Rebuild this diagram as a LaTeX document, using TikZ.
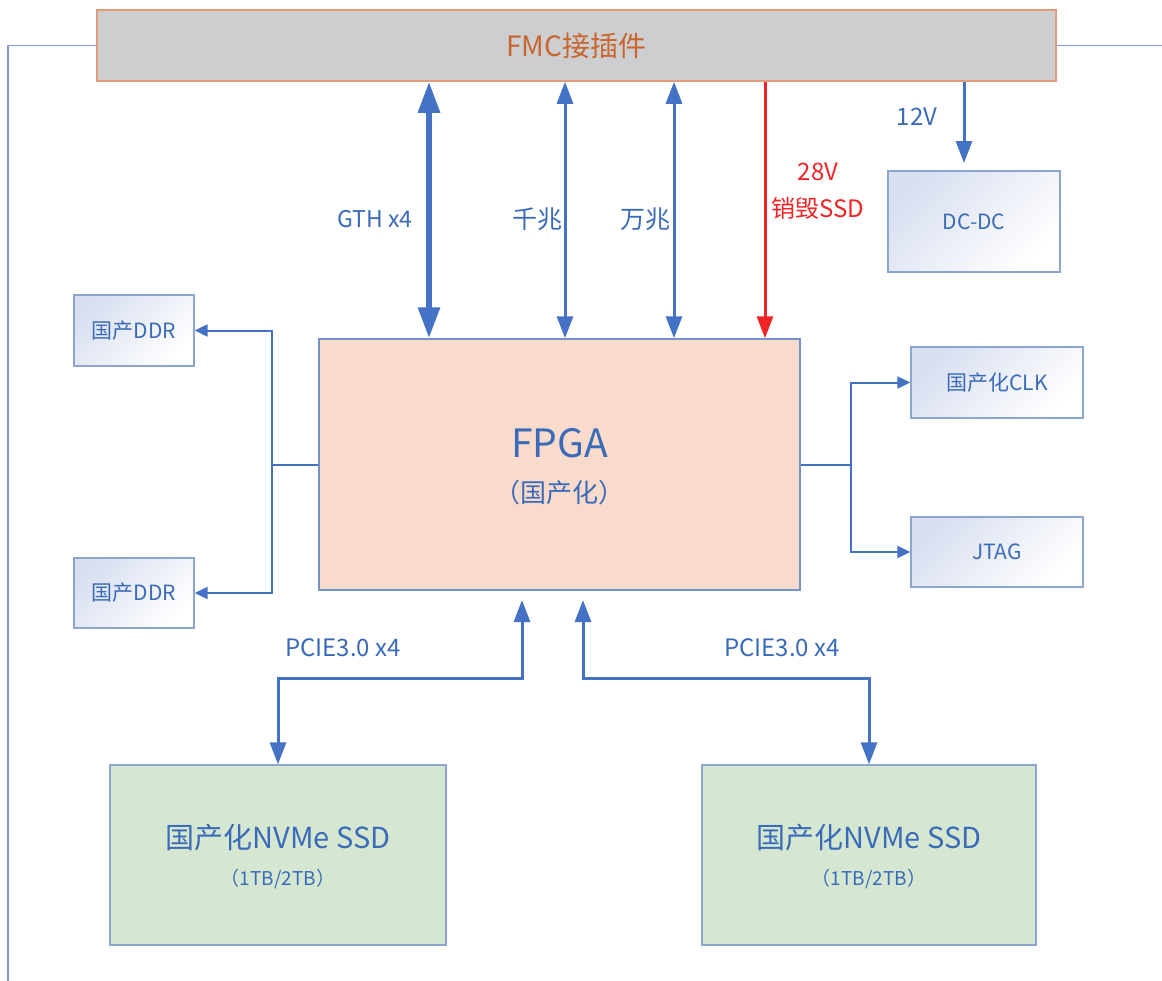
\documentclass[tikz,border=0pt]{standalone}
\usepackage{fontspec}
\setmainfont{Noto Sans CJK SC}
\usetikzlibrary{arrows.meta,calc}
\definecolor{lblue}{HTML}{4472C4}
\definecolor{tblue}{HTML}{3A6BB8}
\definecolor{frameblue}{HTML}{7F9BD1}
\definecolor{boxedge}{HTML}{8DA5D3}
\definecolor{fmcfill}{HTML}{CDCED0}
\definecolor{fmcedge}{HTML}{E39B7B}
\definecolor{fmctext}{HTML}{C9652E}
\definecolor{fpgafill}{HTML}{F8DBCA}
\definecolor{fpgaedge}{HTML}{7593CB}
\definecolor{ssdfill}{HTML}{D6E7D1}
\definecolor{red28}{HTML}{F02424}
\definecolor{gradtop}{HTML}{D8DFF0}
\begin{document}
\begin{tikzpicture}[x=1pt,y=-1pt,
  fs/.style={font=\fontsize{#1}{#1}\selectfont},
  gbox/.style={draw=boxedge, line width=1.3pt, top color=gradtop, bottom color=white, shading angle=45, inner sep=0pt, text=tblue, fs=21},
  lbl/.style={text=tblue, inner sep=0pt},
  thickarr/.style={draw=lblue, line width=6pt, {Triangle[length=31pt,width=21pt]}-{Triangle[length=31pt,width=21pt]}},
  midarr/.style={draw=lblue, line width=3pt, {Triangle[length=22pt,width=16pt]}-{Triangle[length=22pt,width=16pt]}},
  downarr/.style={line width=3pt, -{Triangle[length=22pt,width=16pt]}},
  smallarr/.style={draw=lblue, line width=2pt, -{Triangle[length=13pt,width=12pt]}},
  thinline/.style={draw=lblue, line width=2pt},
  framel/.style={draw=frameblue, line width=1.5pt}
]
\useasboundingbox (0,0) rectangle (1162,980);
\fill[white] (0,0) rectangle (1162,980);

% boxes
\node[draw=fmcedge, fill=fmcfill, line width=1.5pt, minimum width=959pt, minimum height=71pt, inner sep=0pt, text=fmctext, fs=28] (fmc) at (576.5,45.5) {FMC接插件};
\node[draw=fpgaedge, fill=fpgafill, line width=1.5pt, minimum width=481pt, minimum height=251pt] (fpga) at (559.5,464.5) {};
\node[lbl, fs=39] (fpgat) at ($(fpga.center)+(0,-21)$) {FPGA};
\node[lbl, fs=26] (fpgas) at ($(fpga.center)+(0,28)$) {（国产化）};

\node[gbox, minimum width=120pt, minimum height=71pt] (ddr1) at (134,330.5) {国产DDR};
\node[gbox, minimum width=120pt, minimum height=70pt] (ddr2) at (134,593) {国产DDR};
\node[gbox, minimum width=172pt, minimum height=71pt] (clk) at (997,382.5) {国产化CLK};
\node[gbox, minimum width=172pt, minimum height=70pt] (jtag) at (997,552) {JTAG};
\node[gbox, minimum width=172pt, minimum height=101pt] (dcdc) at (974,221.5) {DC-DC};

\node[draw=boxedge, fill=ssdfill, line width=1.3pt, minimum width=336pt, minimum height=180pt] (ssd1) at (278,855) {};
\node[draw=boxedge, fill=ssdfill, line width=1.3pt, minimum width=334pt, minimum height=180pt] (ssd2) at (869,855) {};
\node[lbl, fs=29] (ssd1a) at ($(ssd1.center)+(0,-17)$) {国产化NVMe SSD};
\node[lbl, fs=19] (ssd1b) at ($(ssd1.center)+(0,24)$) {（1TB/2TB）};
\node[lbl, fs=29] (ssd2a) at ($(ssd2.center)+(0,-17)$) {国产化NVMe SSD};
\node[lbl, fs=19] (ssd2b) at ($(ssd2.center)+(0,24)$) {（1TB/2TB）};

% outer frame
\coordinate (fl) at (8,45.5);
\coordinate (fb) at (8,982);
\coordinate (fr) at (1164,45.5);
\draw[framel] (fmc.west) -- (fl) -- (fb);
\draw[framel] (fmc.east) -- (fr);

% vertical links FMC - FPGA
\coordinate (xg) at (429,0);
\coordinate (xq) at (565,0);
\coordinate (xw) at (674,0);
\coordinate (xr) at (765,0);
\coordinate (v12) at (964,163);
\draw[thickarr] (xg |- fmc.south) -- (xg |- fpga.north);
\draw[midarr] (xq |- fmc.south) -- (xq |- fpga.north);
\draw[midarr] (xw |- fmc.south) -- (xw |- fpga.north);
\draw[downarr, draw=red28] (xr |- fmc.south) -- (xr |- fpga.north);
\draw[downarr, draw=lblue] (v12 |- fmc.south) -- (v12);

\node[lbl, fs=23] (lgth) at (375,219) {GTH x4};
\node[lbl, fs=25] (lq) at (537,219) {千兆};
\node[lbl, fs=25] (lw) at (645,219) {万兆};
\node[inner sep=0pt, text=red28, fs=24] (l28) at (818,172) {28V};
\node[inner sep=0pt, text=red28, fs=24] (lxh) at (818,208) {销毁SSD};
\node[lbl, fs=24] (l12) at (917,117) {12V};

% DDR links
\coordinate (lj) at (272,464.5);
\draw[thinline] (fpga.west) -- (lj);
\draw[smallarr] (lj) |- (ddr1.east);
\draw[smallarr] (lj) |- (ddr2.east);

% CLK / JTAG links
\coordinate (rj) at (851,464.5);
\draw[thinline] (fpga.east) -- (rj);
\draw[smallarr] (rj) |- (clk.west);
\draw[smallarr] (rj) |- (jtag.west);

% PCIe links
\coordinate (pu1) at (522,600);
\coordinate (pu2) at (583,600);
\coordinate (pm) at (0,678);
\draw[midarr] (pu1) -- (pu1 |- pm) -| (ssd1.north);
\draw[midarr] (pu2) -- (pu2 |- pm) -| (ssd2.north);
\node[lbl, fs=24] (lp1) at (343,648) {PCIE3.0 x4};
\node[lbl, fs=24] (lp2) at (782,648) {PCIE3.0 x4};
\end{tikzpicture}
\end{document}
